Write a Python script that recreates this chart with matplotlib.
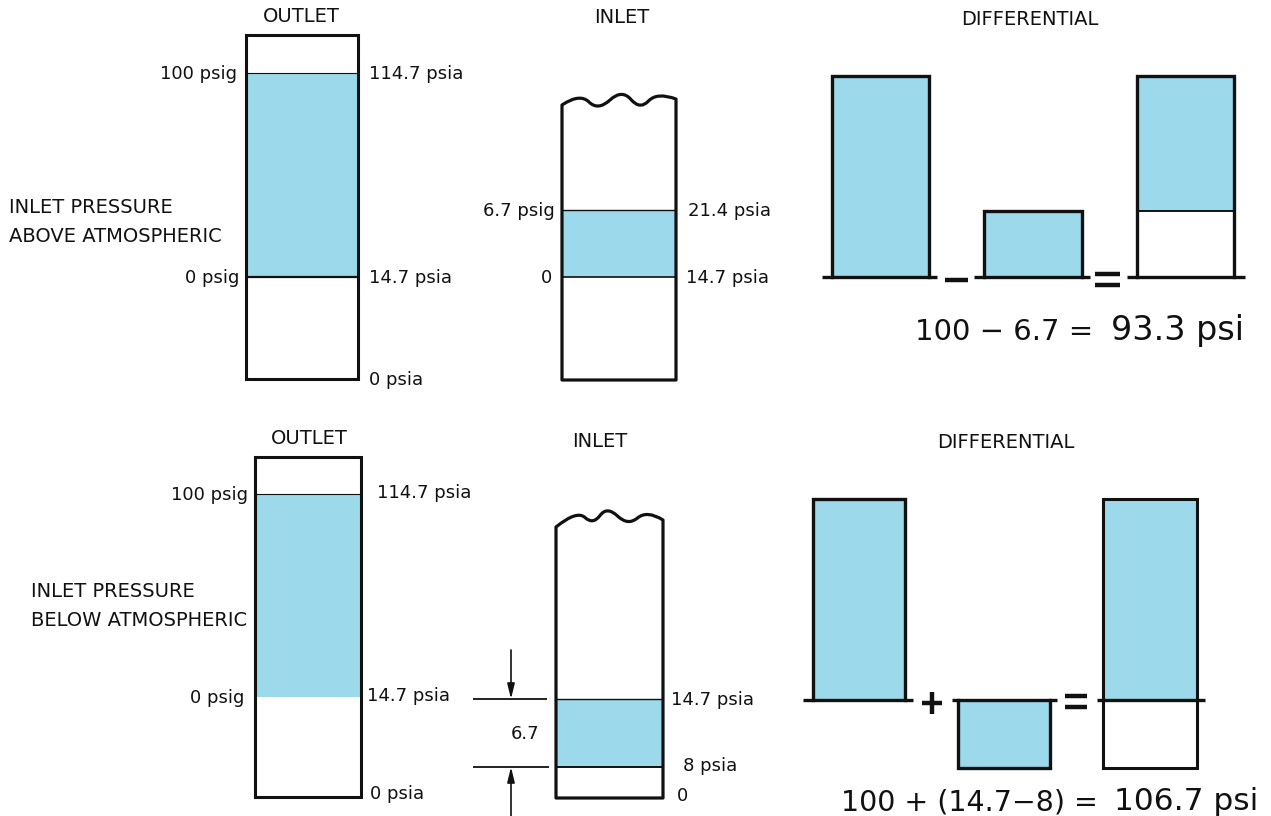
import numpy as np
import matplotlib.pyplot as plt
from matplotlib.path import Path
from matplotlib.patches import PathPatch

plt.rcParams['font.family'] = ['DejaVu Sans']

BLUE = "#9cd9ea"
INK = "#111111"

# values ------------------------------------------------------------
col_titles = ["OUTLET", "INLET", "DIFFERENTIAL"]
case_above = ["INLET PRESSURE", "ABOVE ATMOSPHERIC"]
case_below = ["INLET PRESSURE", "BELOW ATMOSPHERIC"]

outlet_psia = [0, 14.7, 114.7]
outlet_left = ["0 psig", "100 psig"]
outlet_right = ["0 psia", "14.7 psia", "114.7 psia"]

inlet_above_psia = [14.7, 21.4]
inlet_above_left = ["0", "6.7 psig"]
inlet_above_right = ["14.7 psia", "21.4 psia"]

inlet_below_psia = [0, 8, 14.7]
inlet_below_right = ["0", "8 psia", "14.7 psia"]
inlet_below_drop = "6.7"

diff_above = [100, 6.7]          # outlet psig, inlet psig
diff_below = [100, -6.7]         # outlet psig, inlet below atm
eq_above = ["100 − 6.7 =", "93.3 psi"]
eq_below = ["100 + (14.7−8) =", "106.7 psi"]

# layout (pixel levels, diagram is not to scale) ---------------------
fig = plt.figure(figsize=(12.71, 8.16), dpi=100)
ax = fig.add_axes([0, 0, 1, 1])
ax.set_xlim(0, 1271)
ax.set_ylim(816, 0)
ax.axis('off')

FS = 13
CAPS = 14
BIG = 21


def scale(p_levels, y_levels):
    return lambda p: np.interp(p, p_levels, y_levels)


def label(x, y, s, ha, fs=FS, dy=6):
    ax.text(x, y + dy, s, ha=ha, va='baseline', fontsize=fs, color=INK)


def fill(x0, x1, ya, yb, color=BLUE):
    ax.fill_between([x0, x1], ya, yb, color=color, lw=0, zorder=1)


def hline(x0, x1, y, lw=1.0):
    ax.plot([x0, x1], [y, y], color=INK, lw=lw, solid_capstyle='butt', zorder=3)


def box(x0, x1, ytop, ybot, lw=2.2):
    ax.plot([x0, x0, x1, x1, x0], [ybot, ytop, ytop, ybot, ybot], color=INK,
            lw=lw, solid_joinstyle='miter', zorder=4)


def wavy_box(pts, ybot, lw=2.3):
    # smooth broken top through the given control points, then down the sides
    verts = [pts[0]]
    codes = [Path.MOVETO]
    for i in range(1, len(pts) - 1):
        mid = ((pts[i][0] + pts[i + 1][0]) / 2, (pts[i][1] + pts[i + 1][1]) / 2)
        if i == len(pts) - 2:
            mid = pts[-1]
        verts += [pts[i], mid]
        codes += [Path.CURVE3, Path.CURVE3]
    verts += [(pts[-1][0], ybot), (pts[0][0], ybot), pts[0]]
    codes += [Path.LINETO, Path.LINETO, Path.CLOSEPOLY]
    ax.add_patch(PathPatch(Path(verts, codes), fc='none', ec=INK, lw=lw,
                           joinstyle='round', zorder=4))


def bar_outline(x0, x1, ytop, ybot, lw=2.4):
    ax.plot([x0, x0, x1, x1], [ybot, ytop, ytop, ybot], color=INK, lw=lw,
            solid_joinstyle='miter', zorder=4)


def thick(xs, ys, lw=3.2):
    ax.plot(xs, ys, color=INK, lw=lw, solid_capstyle='butt', zorder=4)


# ================= TOP ROW: inlet above atmospheric ==================
label(301, 16, col_titles[0], 'center', fs=CAPS)
label(622, 17, col_titles[1], 'center', fs=CAPS)
label(1030, 19, col_titles[2], 'center', fs=CAPS)
label(9, 207, case_above[0], 'left', fs=CAPS)
label(9, 236, case_above[1], 'left', fs=CAPS)

# outlet column
yo = scale(outlet_psia, [379, 277, 73])
x0, x1 = 246, 358
fill(x0, x1, yo(outlet_psia[1]), yo(outlet_psia[2]))
hline(x0, x1, yo(outlet_psia[2]), lw=0.8)
hline(x0, x1, yo(outlet_psia[1]), lw=1.6)
box(x0, x1, 35, yo(outlet_psia[0]))
label(237, yo(outlet_psia[2]), outlet_left[1], 'right')
label(239, yo(outlet_psia[1]), outlet_left[0], 'right')
for p, s in zip(outlet_psia, outlet_right):
    label(369, yo(p), s, 'left')

# inlet column
yi = scale(inlet_above_psia, [277, 210])
x0, x1 = 562, 676
fill(x0, x1, yi(inlet_above_psia[0]), yi(inlet_above_psia[1]))
hline(x0, x1, yi(inlet_above_psia[1]), lw=1.0)
hline(x0, x1, yi(inlet_above_psia[0]), lw=1.2)
wavy_box([(562, 105), (580, 93), (598, 111), (622, 89), (640, 110), (657, 92), (676, 99)], 380)
label(555, yi(inlet_above_psia[1]), inlet_above_left[1], 'right')
label(552, yi(inlet_above_psia[0]), inlet_above_left[0], 'right')
label(688, yi(inlet_above_psia[1]), inlet_above_right[1], 'left')
label(686, yi(inlet_above_psia[0]), inlet_above_right[0], 'left')

# differential
yd = scale([0, diff_above[1], diff_above[0]], [277, 211, 76])
base = yd(0)
fill(832, 929, base, yd(diff_above[0]))
bar_outline(832, 929, yd(diff_above[0]), base)
hline(822, 937, base, lw=2.4)
thick([945, 968], [280, 280])
fill(984, 1082, base, yd(diff_above[1]))
bar_outline(984, 1082, yd(diff_above[1]), base)
hline(974, 1090, base, lw=2.4)
thick([1095, 1120], [274, 274])
thick([1095, 1120], [285, 285])
fill(1137, 1234, yd(diff_above[1]), yd(diff_above[0]))
bar_outline(1137, 1234, yd(diff_above[0]), base)
hline(1137, 1234, yd(diff_above[1]), lw=1.4)
hline(1127, 1245, base, lw=2.4)
label(1093, 340, eq_above[0], 'right', fs=BIG, dy=0)
label(1111, 340, eq_above[1], 'left', fs=BIG + 3, dy=0)

# ================= BOTTOM ROW: inlet below atmospheric ===============
label(309, 438, col_titles[0], 'center', fs=CAPS)
label(600, 441, col_titles[1], 'center', fs=CAPS)
label(1006, 442, col_titles[2], 'center', fs=CAPS)
label(31, 591, case_below[0], 'left', fs=CAPS)
label(31, 620, case_below[1], 'left', fs=CAPS)

# outlet column
yo = scale(outlet_psia, [797, 697, 494])
x0, x1 = 255, 361
fill(x0, x1, yo(outlet_psia[1]), yo(outlet_psia[2]))
hline(x0, x1, yo(outlet_psia[2]), lw=0.8)
box(x0, x1, 457, yo(outlet_psia[0]))
label(248, yo(outlet_psia[2]), outlet_left[1], 'right')
label(244, yo(outlet_psia[1]), outlet_left[0], 'right')
label(377, yo(outlet_psia[2]) - 2, outlet_right[2], 'left')
label(367, yo(outlet_psia[1]) - 2, outlet_right[1], 'left')
label(370, yo(outlet_psia[0]) - 4, outlet_right[0], 'left')

# inlet column
yi = scale(inlet_below_psia, [798, 767, 699])
x0, x1 = 556, 663
fill(x0, x1, yi(inlet_below_psia[1]), yi(inlet_below_psia[2]))
hline(x0, x1, yi(inlet_below_psia[2]), lw=1.0)
hline(x0, x1, yi(inlet_below_psia[1]), lw=1.4)
wavy_box([(556, 527), (577, 510), (593, 525), (607, 506), (628, 526), (647, 510), (663, 520)], 798)
label(671, yi(inlet_below_psia[2]), inlet_below_right[2], 'left')
label(683, yi(inlet_below_psia[1]) - 2, inlet_below_right[1], 'left')
label(677, yi(inlet_below_psia[0]) - 3, inlet_below_right[0], 'left')
label(525, (yi(inlet_below_psia[1]) + yi(inlet_below_psia[2])) / 2, inlet_below_drop, 'center')
hline(473, 547, yi(inlet_below_psia[2]), lw=1.3)
hline(473, 549, yi(inlet_below_psia[1]), lw=1.3)
aprops = dict(arrowstyle='-|>,head_length=0.9,head_width=0.22', lw=1.2,
              color=INK, shrinkA=0, shrinkB=0)
ax.annotate('', xy=(511, yi(inlet_below_psia[2])), xytext=(511, 650), arrowprops=aprops)
ax.annotate('', xy=(511, yi(inlet_below_psia[1])), xytext=(511, 816), arrowprops=aprops)

# differential
yd = scale([diff_below[1], 0, diff_below[0]], [768, 700, 499])
base = yd(0)
fill(813, 905, base, yd(diff_below[0]))
bar_outline(813, 905, yd(diff_below[0]), base)
hline(803, 913, base, lw=2.4)
thick([922, 942], [703, 703])
thick([932, 932], [692, 714])
fill(958, 1050, base, yd(diff_below[1]))
bar_outline(958, 1050, yd(diff_below[1]), base)
hline(952, 1057, base, lw=2.4)
thick([1065, 1087], [696, 696])
thick([1065, 1087], [707, 707])
fill(1103, 1197, base, yd(diff_below[0]))
box(1103, 1197, yd(diff_below[0]), yd(diff_below[1]))
hline(1097, 1205, base, lw=2.4)
label(1098, 810, eq_below[0], 'right', fs=BIG - 0.5, dy=0)
label(1114, 810, eq_below[1], 'left', fs=BIG + 1.5, dy=0)

fig.savefig("out.png", dpi=100)
